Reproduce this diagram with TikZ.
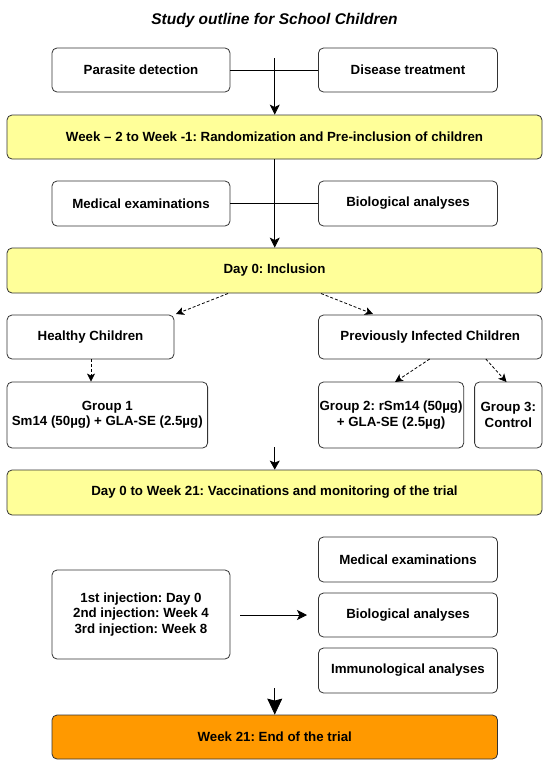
\documentclass[tikz,border=0pt]{standalone}
\usepackage{fontspec}
\setmainfont{Liberation Sans}
\usetikzlibrary{arrows.meta,calc}
\definecolor{boxyellow}{HTML}{FFFF99}
\definecolor{boxorange}{HTML}{FF9900}
\definecolor{edge}{HTML}{333333}
\frenchspacing
\begin{document}
\begin{tikzpicture}[x=1pt,y=-1pt,
  box/.style={draw=edge, line width=0.8pt, rounded corners=5pt, fill=white,
    font=\fontsize{13.3}{15.5}\selectfont\bfseries\frenchspacing, align=center, inner sep=0pt},
  ybox/.style={box, fill=boxyellow},
  obox/.style={box, fill=boxorange},
  conn/.style={draw=black, line width=0.8pt},
  arr/.style={conn, -{Stealth[length=10pt,width=10pt,inset=2.5pt]}},
  dasharr/.style={conn, dashed, dash pattern=on 3pt off 2pt, -{Stealth[length=8pt,width=8pt,inset=2pt]}},
  smallarr/.style={conn, -{Stealth[length=9pt,width=10pt,inset=2pt]}},
  bigarr/.style={conn, -{Stealth[length=16pt,width=15pt,inset=2pt]}}
]
\useasboundingbox (0,0) rectangle (550,771);
\fill[white] (0,0) rectangle (550,771);

\node[font=\fontsize{15.5}{18}\selectfont\bfseries\itshape] (title) at (274.5,20) {Study outline for School Children};

\node[box, minimum width=178pt, minimum height=44pt] (pd) at (141,70) {Parasite detection};
\node[box, minimum width=179pt, minimum height=44pt] (dt) at (408,70) {Disease treatment};
\node[ybox, minimum width=535pt, minimum height=44pt] (y1) at (274.5,137) {Week – 2 to Week -1: Randomization and Pre-inclusion of children};

\node[box, minimum width=178pt, minimum height=45pt] (me1) at (141,203.5) {Medical examinations};
\node[box, minimum width=179pt, minimum height=45pt] (ba1) at (408,203.5) {Biological analyses};
\node[ybox, minimum width=535pt, minimum height=45pt] (y2) at (274.5,270.5) {Day 0: Inclusion};

\node[box, minimum width=167pt, minimum height=44pt] (hc) at (90.5,337) {Healthy Children};
\node[box, minimum width=223.5pt, minimum height=44pt] (pic) at (430.25,337) {Previously Infected Children};

\node[box, minimum width=200.6pt, minimum height=66pt] (g1) at (107.3,415) {Group 1\\Sm14 (50µg) + GLA-SE (2.5µg)};
\node[box, minimum width=145.2pt, minimum height=66pt] (g2) at (391.1,415) {Group 2: rSm14 (50µg)\\+ GLA-SE (2.5µg)};
\node[box, minimum width=67.4pt, minimum height=66pt] (g3) at (508.3,415) {Group 3:\\Control};

\node[ybox, minimum width=535pt, minimum height=45pt] (y3) at (274.5,492.5) {Day 0 to Week 21: Vaccinations and monitoring of the trial};

\node[box, minimum width=179pt, minimum height=45pt] (me2) at (408,559.5) {Medical examinations};
\node[box, minimum width=179pt, minimum height=44pt] (ba2) at (408,615) {Biological analyses};
\node[box, minimum width=179pt, minimum height=45pt] (ia2) at (408,670.5) {Immunological analyses};
\node[box, minimum width=178pt, minimum height=89pt] (inj) at (141,614.5) {1st injection: Day 0\\2nd injection: Week 4\\3rd injection: Week 8};

\node[obox, minimum width=445.5pt, minimum height=44pt] (end) at (274.75,737) {Week 21: End of the trial};

% connectors
\coordinate (a1) at (274.75,58);
\draw[conn] (pd.east) -- (dt.west);
\draw[arr] (a1) -- (a1 |- y1.north);
\draw[conn] (me1.east) -- (ba1.west);
\draw[arr] (a1 |- y1.south) -- (a1 |- y2.north);

\coordinate (d1s) at (228,293.5);
\coordinate (d1e) at (176,314);
\coordinate (d2s) at (321,293.5);
\coordinate (d2e) at (373,314);
\draw[dasharr] (d1s) -- (d1e);
\draw[dasharr] (d2s) -- (d2e);

\coordinate (d0s) at (91,359);
\draw[dasharr] (d0s) -- (d0s |- g1.north);
\coordinate (d3s) at (429.7,359);
\coordinate (d3e) at (395,382);
\coordinate (d4s) at (485.8,359);
\coordinate (d4e) at (506.5,382);
\draw[dasharr] (d3s) -- (d3e);
\draw[dasharr] (d4s) -- (d4e);

\coordinate (a3) at (274.75,447);
\draw[smallarr] (a3) -- (a3 |- y3.north);

\coordinate (i1) at (240,615);
\coordinate (i2) at (307,615);
\draw[arr] (i1) -- (i2);

\coordinate (a4) at (274.75,688);
\draw[bigarr] (a4) -- (a4 |- end.north);
\end{tikzpicture}
\end{document}
